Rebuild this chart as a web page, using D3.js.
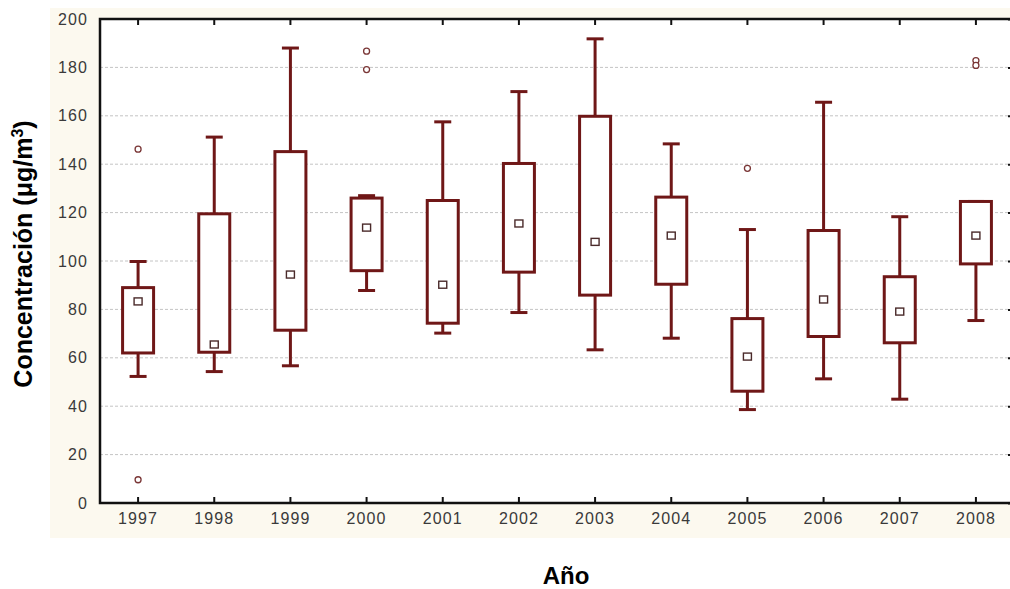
<!DOCTYPE html>
<html>
<head>
<meta charset="utf-8">
<script src="https://cdn.jsdelivr.net/npm/d3@7"></script>
<style>
  html, body { margin: 0; padding: 0; background: #ffffff; }
  svg { display: block; }
</style>
</head>
<body>
<div id="chart"></div>
<script>
// Yearly concentration boxplots: median (square), quartile box, non-outlier whiskers, outliers (circles)
const years = ["1997","1998","1999","2000","2001","2002","2003","2004","2005","2006","2007","2008"];
const whiskerLow  = [52.3, 54.3, 56.7, 87.8, 70.2, 78.7, 63.3, 68.1, 38.6, 51.3, 42.9, 75.4];
const q1          = [62.0, 62.3, 71.4, 96.0, 74.3, 95.4, 85.9, 90.4, 46.2, 68.8, 66.2, 98.8];
const medians     = [83.3, 65.5, 94.4, 113.8, 90.2, 115.5, 107.9, 110.5, 60.5, 84.1, 79.1, 110.5];
const q3          = [89.0, 119.5, 145.2, 126.0, 125.0, 140.3, 159.8, 126.4, 76.2, 112.6, 93.5, 124.6];
const whiskerHigh = [99.8, 151.2, 188.0, 127.0, 157.5, 170.0, 191.8, 148.4, 113.0, 165.6, 118.3, 124.6];
const outlierYear  = ["1997", "1997", "2000", "2000", "2005", "2008", "2008"];
const outlierValue = [146.2, 9.6, 186.7, 179.1, 138.3, 182.8, 180.8];
const yTicks = [0, 20, 40, 60, 80, 100, 120, 140, 160, 180, 200];

const W = 1010, H = 589;
const plot = { left: 100, right: 1014, top: 19, bottom: 503 };

const svg = d3.select("#chart").append("svg")
  .attr("width", W).attr("height", H);

// cream panel behind the plot
svg.append("rect")
  .attr("x", 50).attr("y", 8).attr("width", W - 50).attr("height", 530)
  .attr("fill", "#fcf9ef");

svg.append("rect")
  .attr("x", plot.left).attr("y", plot.top)
  .attr("width", plot.right - plot.left).attr("height", plot.bottom - plot.top)
  .attr("fill", "#ffffff");

const x = d3.scaleBand().domain(years).range([plot.left, plot.right]).padding(0);
const y = d3.scaleLinear().domain([0, 200]).range([plot.bottom, plot.top]);
const cx = d => x(d) + x.bandwidth() / 2;

// dashed horizontal gridlines
svg.append("g")
  .selectAll("line")
  .data(yTicks.filter(v => v > 0 && v < 200))
  .join("line")
  .attr("x1", plot.left).attr("x2", plot.right)
  .attr("y1", d => y(d)).attr("y2", d => y(d))
  .attr("stroke", "#c4c4c4").attr("stroke-width", 1)
  .attr("stroke-dasharray", "3,2");

const tickFont = "'Liberation Sans', Arial, sans-serif";

// left axis
const yAxis = svg.append("g")
  .attr("transform", `translate(${plot.left},0)`)
  .call(d3.axisLeft(y).tickValues(yTicks).tickSize(0).tickPadding(12));
yAxis.select(".domain").remove();
yAxis.selectAll("text")
  .attr("font-family", tickFont).attr("font-size", 16)
  .attr("letter-spacing", "1.1px").attr("fill", "#3a3a3a");

// right axis (inward ticks)
const yAxisR = svg.append("g")
  .attr("transform", `translate(${plot.right},0)`)
  .call(d3.axisLeft(y).tickValues(yTicks).tickSize(6).tickFormat(""));
yAxisR.select(".domain").remove();
yAxisR.selectAll("line").attr("stroke", "#111").attr("stroke-width", 2);

// bottom axis with inward ticks
const xAxis = svg.append("g")
  .attr("transform", `translate(0,${plot.bottom})`)
  .call(d3.axisBottom(x).tickSize(0).tickPadding(10));
xAxis.select(".domain").remove();
xAxis.selectAll("text")
  .attr("font-family", tickFont).attr("font-size", 16)
  .attr("letter-spacing", "1.1px").attr("fill", "#3a3a3a");

svg.append("g").selectAll("line")
  .data(years).join("line")
  .attr("x1", cx).attr("x2", cx)
  .attr("y1", plot.bottom).attr("y2", plot.bottom - 6)
  .attr("stroke", "#111").attr("stroke-width", 2);

// top axis ticks pointing down
svg.append("g").selectAll("line")
  .data(years).join("line")
  .attr("x1", cx).attr("x2", cx)
  .attr("y1", plot.top).attr("y2", plot.top + 6)
  .attr("stroke", "#111").attr("stroke-width", 2);

// frame
svg.append("path")
  .attr("d", `M${plot.right},${plot.top}H${plot.left}V${plot.bottom}H${plot.right}`)
  .attr("fill", "none").attr("stroke", "#111").attr("stroke-width", 2.5);

const boxColor = "#6f1717";
const boxW = 31, capW = 17;

const data = years.map((yr, i) => ({
  yr, lo: whiskerLow[i], q1: q1[i], med: medians[i], q3: q3[i], hi: whiskerHigh[i]
}));

const boxes = svg.append("g").selectAll("g")
  .data(data).join("g");

// whiskers
boxes.append("line")
  .attr("x1", d => cx(d.yr)).attr("x2", d => cx(d.yr))
  .attr("y1", d => y(d.q3)).attr("y2", d => y(d.hi))
  .attr("stroke", boxColor).attr("stroke-width", 3);
boxes.append("line")
  .attr("x1", d => cx(d.yr)).attr("x2", d => cx(d.yr))
  .attr("y1", d => y(d.q1)).attr("y2", d => y(d.lo))
  .attr("stroke", boxColor).attr("stroke-width", 3);
boxes.append("line")
  .attr("x1", d => cx(d.yr) - capW / 2).attr("x2", d => cx(d.yr) + capW / 2)
  .attr("y1", d => y(d.hi)).attr("y2", d => y(d.hi))
  .attr("stroke", boxColor).attr("stroke-width", 3);
boxes.append("line")
  .attr("x1", d => cx(d.yr) - capW / 2).attr("x2", d => cx(d.yr) + capW / 2)
  .attr("y1", d => y(d.lo)).attr("y2", d => y(d.lo))
  .attr("stroke", boxColor).attr("stroke-width", 3);

// quartile box
boxes.append("rect")
  .attr("x", d => cx(d.yr) - boxW / 2)
  .attr("y", d => y(d.q3))
  .attr("width", boxW)
  .attr("height", d => y(d.q1) - y(d.q3))
  .attr("fill", "#ffffff").attr("stroke", boxColor).attr("stroke-width", 3);

// median marker
boxes.append("rect")
  .attr("x", d => cx(d.yr) - 4)
  .attr("y", d => y(d.med) - 3.5)
  .attr("width", 8).attr("height", 7)
  .attr("fill", "#ffffff").attr("stroke", "#4a2a2a").attr("stroke-width", 1.4);

// outliers
svg.append("g").selectAll("circle")
  .data(outlierValue.map((v, i) => ({ yr: outlierYear[i], v })))
  .join("circle")
  .attr("cx", d => cx(d.yr)).attr("cy", d => y(d.v))
  .attr("r", 3)
  .attr("fill", "#ffffff").attr("stroke", "#7a3636").attr("stroke-width", 1.3);

// axis titles
const titleFont = "'Liberation Sans', Arial, sans-serif";
const yTitle = svg.append("text")
  .attr("transform", "translate(32,254) rotate(-90)")
  .attr("text-anchor", "middle")
  .attr("font-family", titleFont).attr("font-weight", "bold").attr("font-size", 25)
  .attr("fill", "#000");
yTitle.append("tspan").text("Concentración (μg/m");
yTitle.append("tspan").attr("dy", -9).attr("font-size", 16).text("3");
yTitle.append("tspan").attr("dy", 9).text(")");

svg.append("text")
  .attr("x", 566).attr("y", 584)
  .attr("text-anchor", "middle")
  .attr("font-family", titleFont).attr("font-weight", "bold").attr("font-size", 24)
  .attr("fill", "#000")
  .text("Año");
</script>
</body>
</html>
